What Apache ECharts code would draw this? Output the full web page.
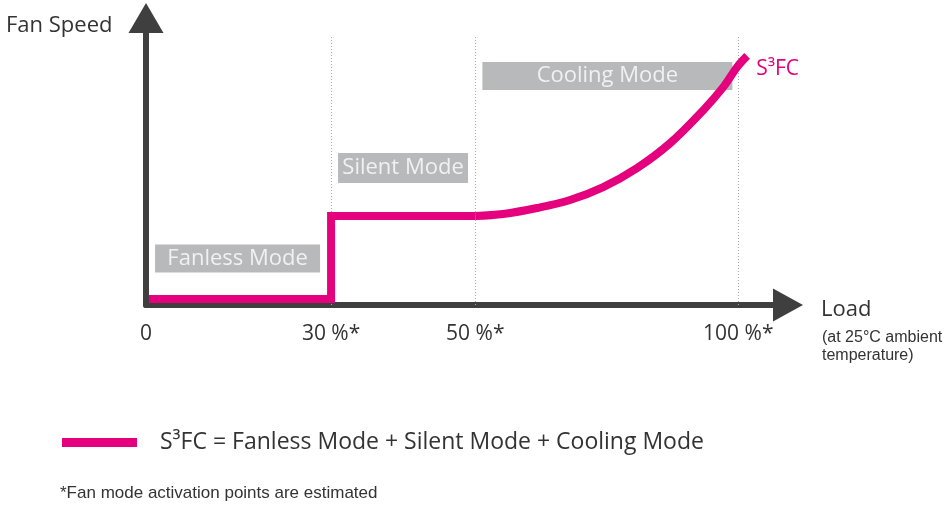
<!DOCTYPE html>
<html>
<head>
<meta charset="utf-8">
<script src="https://cdn.jsdelivr.net/npm/echarts@6/dist/echarts.min.js"></script>
<style>
  html, body { margin: 0; padding: 0; background: #ffffff; }
  #chart { width: 949px; height: 505px; }
</style>
</head>
<body>
<div id="chart"></div>
<script>
// ---- data (schematic diagram positions) ----
// x: position along the load axis (0 = origin, 100 = "100 %*" mark)
// y: fan speed (0 = axis, 100 = top of axis)
const stepX = [0.5, 31.25, 31.25, 55.6];
const stepY = [2.1, 2.1, 31.0, 31.0];
const curveX = [55.6, 60.3, 66.0, 71.6, 77.2, 82.9, 88.5, 94.1, 97.5, 99.8, 101.5];
const curveY = [31.0, 31.7, 33.8, 36.6, 41.1, 47.7, 56.4, 67.9, 76.0, 82.9, 86.8];
const tickPositions = [0, 31.25, 55.6, 100];
const tickLabels = ['0', '30 %*', '50 %*', '100 %*'];
const dividerPositions = [31.25, 55.6, 100];
const dividerTop = 94;
const modeNames = ['Fanless Mode', 'Silent Mode', 'Cooling Mode'];
const modeX = [15.46, 43.4, 77.9];
const modeY = [16.2, 47.7, 79.8];
const seriesName = 'S³FC = Fanless Mode + Silent Mode + Cooling Mode';

const PINK = '#e5007d';
const AXIS = '#3f3f3f';
const TEXT = '#333333';
const BOX = '#a6a7a9';
const FONT = '"Open Sans", "DejaVu Sans", sans-serif';
const ARIAL = '"Liberation Sans", Arial, sans-serif';

const boxSizes = [[165, 28], [130, 30], [250, 28]];

const chart = echarts.init(document.getElementById('chart'), null, { renderer: 'canvas' });

const lineStyle = { color: PINK, width: 8, join: 'miter', cap: 'butt' };

const option = {
  backgroundColor: '#ffffff',
  animation: false,
  textStyle: { fontFamily: FONT },
  title: [
    { text: 'Fan Speed', left: 1, top: 10, textStyle: { fontFamily: FONT, fontSize: 22, fontWeight: 'normal', color: TEXT } },
    { text: 'Load', left: 816, top: 294, textStyle: { fontFamily: FONT, fontSize: 22, fontWeight: 'normal', color: TEXT } },
    { text: '(at 25°C ambient\ntemperature)', left: 817, top: 324, textStyle: { fontFamily: ARIAL, fontSize: 16, lineHeight: 18, fontWeight: 'normal', color: TEXT } },
    { text: '*Fan mode activation points are estimated', left: 55, top: 480, textStyle: { fontFamily: ARIAL, fontSize: 17, fontWeight: 'normal', color: TEXT } }
  ],
  legend: {
    left: 57,
    top: 426,
    icon: 'rect',
    itemWidth: 75,
    itemHeight: 9,
    data: [seriesName],
    textStyle: { fontFamily: FONT, fontSize: 23, color: TEXT, padding: [2, 0, 0, 18] }
  },
  grid: { left: 146, right: 161, top: 18, bottom: 200, containLabel: false },
  xAxis: {
    type: 'value',
    min: 0,
    max: 108.4,
    axisLine: {
      show: true,
      lineStyle: { color: AXIS, width: 6 },
      symbol: ['none', 'triangle'],
      symbolSize: [33, 30]
    },
    axisTick: { show: false },
    splitLine: { show: false },
    axisLabel: {
      show: true,
      customValues: tickPositions,
      margin: 19,
      fontFamily: FONT,
      fontSize: 21,
      color: TEXT,
      formatter: function (v) {
        let best = 0, bd = Infinity;
        tickPositions.forEach(function (p, i) { const d = Math.abs(p - v); if (d < bd) { bd = d; best = i; } });
        return tickLabels[best];
      }
    }
  },
  yAxis: {
    type: 'value',
    min: 0,
    max: 100,
    axisLine: {
      show: true,
      lineStyle: { color: AXIS, width: 6 },
      symbol: ['none', 'triangle'],
      symbolSize: [35, 30]
    },
    axisTick: { show: false },
    axisLabel: { show: false },
    splitLine: { show: false }
  },
  series: [
    {
      name: seriesName,
      type: 'line',
      showSymbol: false,
      symbol: 'none',
      smooth: false,
      z: 5,
      lineStyle: lineStyle,
      itemStyle: { color: PINK },
      data: stepX.map(function (x, i) { return [x, stepY[i]]; }),
      markLine: {
        silent: true,
        symbol: ['none', 'none'],
        label: { show: false },
        lineStyle: { color: '#a9a9a9', width: 1, type: [1, 2] },
        data: dividerPositions.map(function (x) {
          return [{ coord: [x, 0] }, { coord: [x, dividerTop] }];
        })
      }
    },
    {
      name: seriesName,
      type: 'line',
      showSymbol: false,
      symbol: 'none',
      smooth: 0.35,
      z: 5,
      lineStyle: lineStyle,
      itemStyle: { color: PINK },
      data: curveX.map(function (x, i) { return [x, curveY[i]]; }),
      endLabel: {
        show: true,
        formatter: 'S³FC',
        color: PINK,
        fontFamily: FONT,
        fontSize: 21,
        offset: [1, 13]
      }
    },
    {
      name: 'modes',
      type: 'scatter',
      symbolSize: 0,
      z: 3,
      data: modeNames.map(function (n, i) {
        return {
          name: n,
          value: [modeX[i], modeY[i]],
          label: {
            show: true,
            position: 'inside',
            formatter: n,
            width: boxSizes[i][0],
            height: boxSizes[i][1],
            lineHeight: boxSizes[i][1],
            align: 'center',
            verticalAlign: 'middle',
            backgroundColor: BOX,
            color: '#ffffff',
            fontFamily: FONT,
            fontSize: 22
          }
        };
      })
    }
  ]
};

chart.setOption(option);
</script>
</body>
</html>
